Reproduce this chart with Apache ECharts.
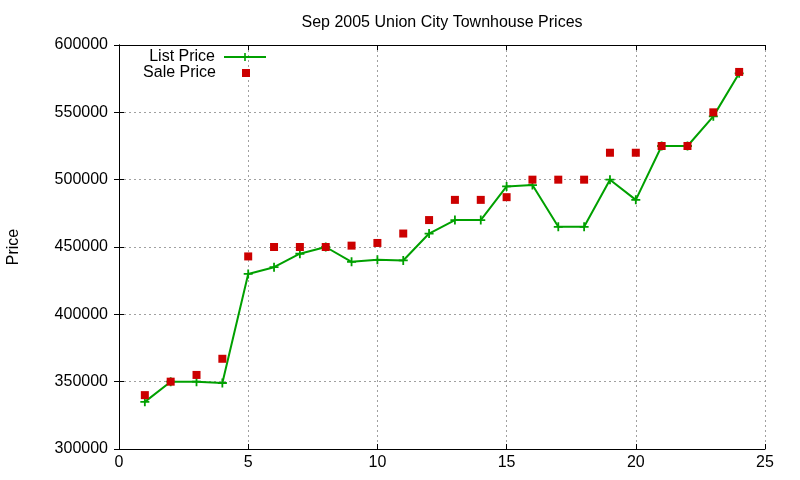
<!DOCTYPE html>
<html>
<head>
<meta charset="utf-8">
<script src="https://cdn.jsdelivr.net/npm/echarts@6/dist/echarts.min.js"></script>
<style>
  html, body { margin: 0; padding: 0; background: #fff; }
  #chart { width: 800px; height: 480px; }
</style>
</head>
<body>
<div id="chart"></div>
<script>
  let days = [1, 2, 3, 4, 5, 6, 7, 8, 9, 10, 11, 12, 13, 14, 15, 16, 17, 18, 19, 20, 21, 22, 23, 24]
  let listPrice = [335000, 350000, 350000, 349000, 430000, 435000, 445000, 450000, 439000, 440500, 440000, 460000,
    470000, 470000, 495000, 496000, 465000, 465000, 500000, 485000, 525000, 525000, 547000, 579000]
  let salePrice = [340000, 350000, 355000, 367000, 443000, 450000, 450000, 450000, 451000, 453000, 460000, 470000,
    485000, 485000, 487000, 500000, 500000, 500000, 520000, 520000, 525000, 525000, 550000, 580000]

  let font = 'Liberation Sans, Arial, sans-serif'
  let green = '#00a000'
  let red = '#cc0000'
  let cross = 'path://M4,0 H6 V4 H10 V6 H6 V10 H4 V6 H0 V4 H4 Z'

  let chart = echarts.init(document.getElementById('chart'))

  let gridLine = { show: true, lineStyle: { color: '#a0a0a0', width: 1, type: [2, 3] } }
  let tick = { show: true, inside: true, length: 5, lineStyle: { color: '#000' } }
  let line = { show: true, lineStyle: { color: '#000', width: 1 } }

  let option = {
    animation: false,
    backgroundColor: '#fff',
    title: {
      text: 'Sep 2005 Union City Townhouse Prices',
      left: 437,
      top: 10,
      textAlign: 'center',
      textStyle: { fontFamily: font, fontSize: 16, fontWeight: 'normal', color: '#000' }
    },
    legend: [
      {
        data: ['List Price'],
        orient: 'vertical',
        align: 'right',
        right: 533,
        top: 49,
        itemWidth: 42,
        itemHeight: 10,
        padding: 0,
        textStyle: { fontFamily: font, fontSize: 16, color: '#000', padding: [0, 4, 0, 0] }
      },
      {
        data: ['Sale Price'],
        orient: 'vertical',
        align: 'right',
        right: 550,
        top: 65,
        itemWidth: 8,
        itemHeight: 8,
        padding: 0,
        textStyle: { fontFamily: font, fontSize: 16, color: '#000', padding: [0, 21, 0, 0] }
      }
    ],
    grid: {
      left: 119,
      right: 35,
      top: 45,
      bottom: 31,
      containLabel: false,
      outerBoundsMode: 'none'
    },
    xAxis: [
      {
        type: 'value',
        min: 0,
        max: 25,
        interval: 5,
        axisLine: line,
        axisTick: tick,
        splitLine: gridLine,
        axisLabel: { fontFamily: font, fontSize: 16, color: '#000', margin: 6 }
      },
      {
        type: 'value',
        position: 'top',
        min: 0,
        max: 25,
        interval: 5,
        axisLine: line,
        axisTick: tick,
        splitLine: { show: false },
        axisLabel: { show: false }
      }
    ],
    yAxis: [
      {
        type: 'value',
        min: 300000,
        max: 600000,
        interval: 50000,
        name: 'Price',
        nameLocation: 'middle',
        nameGap: 97,
        nameTextStyle: { fontFamily: font, fontSize: 16, color: '#000' },
        axisLine: line,
        axisTick: tick,
        splitLine: gridLine,
        axisLabel: { fontFamily: font, fontSize: 16, color: '#000', margin: 11, formatter: v => String(v) }
      },
      {
        type: 'value',
        position: 'right',
        min: 300000,
        max: 600000,
        interval: 50000,
        axisLine: line,
        axisTick: tick,
        splitLine: { show: false },
        axisLabel: { show: false }
      }
    ],
    series: [
      {
        name: 'List Price',
        type: 'line',
        data: days.map((d, i) => [d, listPrice[i]]),
        symbol: cross,
        symbolSize: 9,
        lineStyle: { color: green, width: 2 },
        itemStyle: { color: green },
        z: 3
      },
      {
        name: 'Sale Price',
        type: 'scatter',
        data: days.map((d, i) => [d, salePrice[i]]),
        symbol: 'rect',
        symbolSize: 8,
        itemStyle: { color: red, opacity: 1 },
        z: 4
      }
    ]
  }
  chart.setOption(option)
</script>
</body>
</html>
